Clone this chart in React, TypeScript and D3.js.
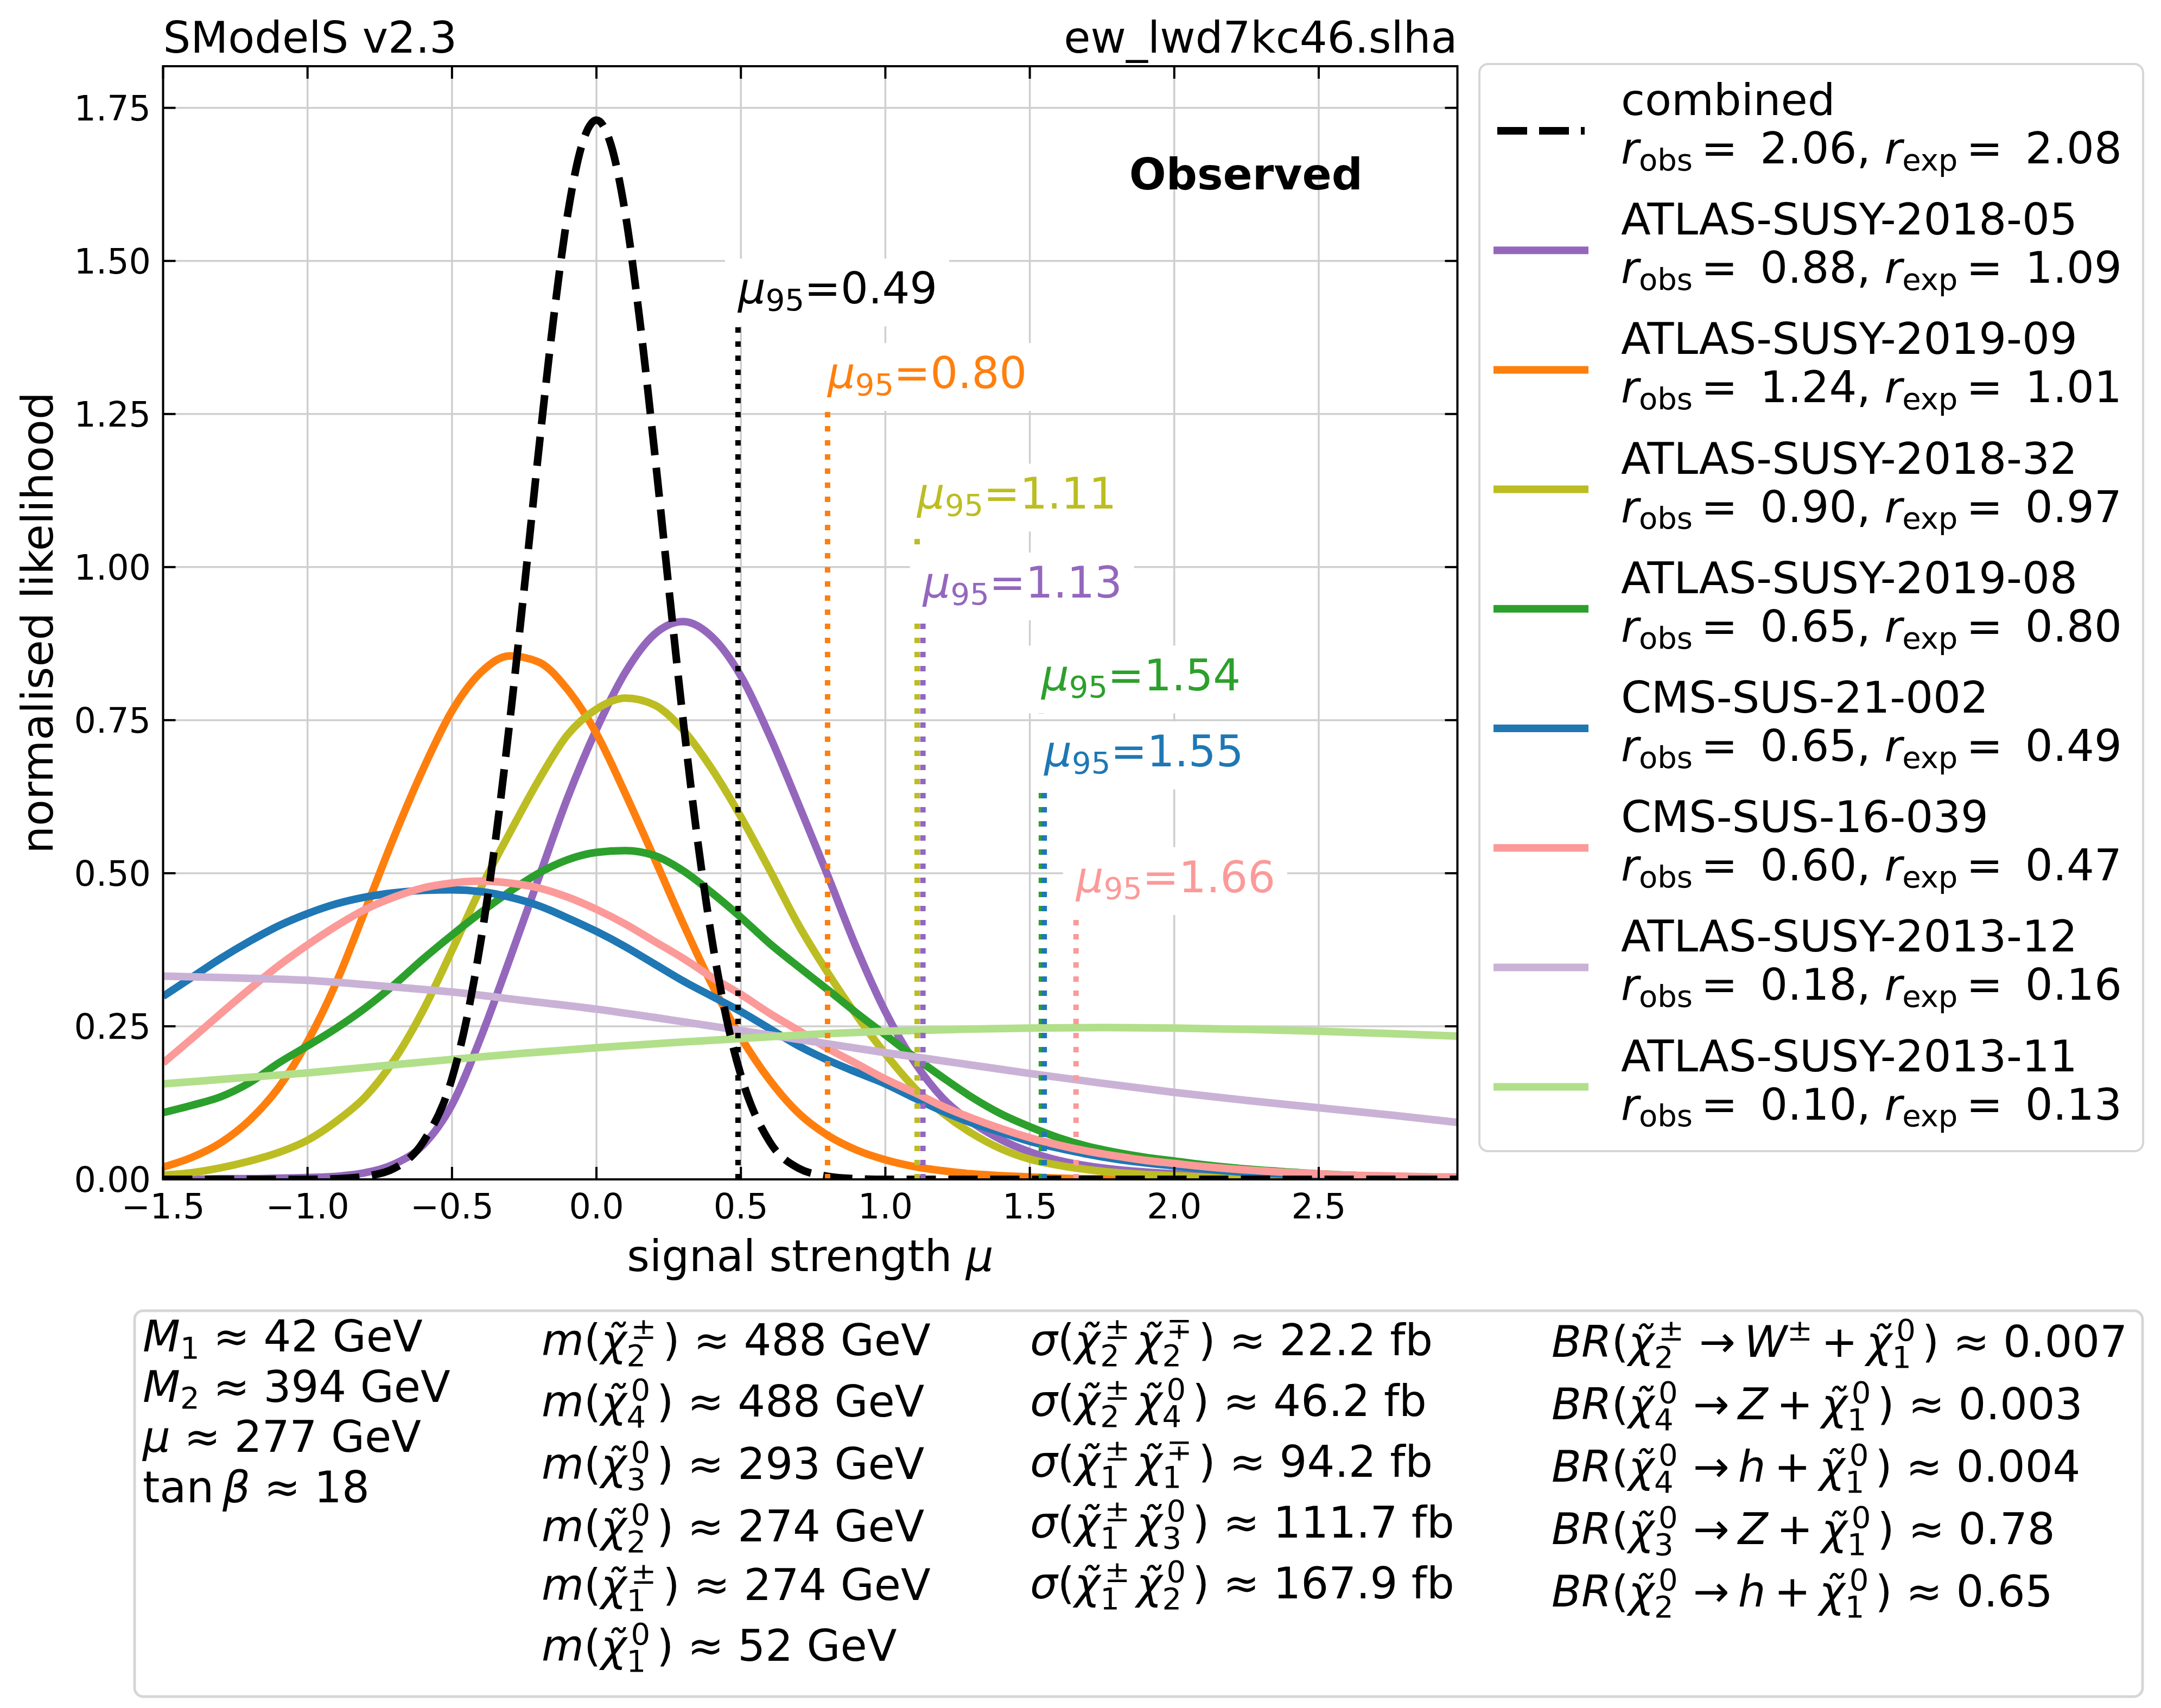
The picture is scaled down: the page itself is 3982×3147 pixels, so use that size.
import * as d3 from 'd3';

// ---- values ----
const muGrid = [-1.5, -1.4, -1.3, -1.2, -1.1, -1.0, -0.9, -0.8, -0.7, -0.6, -0.5, -0.4, -0.3, -0.2, -0.1, 0.0, 0.1, 0.2, 0.3, 0.4, 0.5, 0.6, 0.7, 0.8, 0.9, 1.0, 1.1, 1.2, 1.3, 1.4, 1.5, 1.6, 1.7, 1.8, 1.9, 2.0, 2.1, 2.2, 2.3, 2.4, 2.5, 2.6, 2.7, 2.8, 2.9, 2.98];
const muFine = [-1.5, -1.0, -0.9, -0.8, -0.7, -0.6, -0.5, -0.45, -0.4, -0.35, -0.3, -0.25, -0.2, -0.15, -0.1, -0.05, 0.0, 0.05, 0.1, 0.15, 0.2, 0.25, 0.3, 0.35, 0.4, 0.45, 0.5, 0.6, 0.7, 0.8, 0.9, 1.0, 2.98];
const muCoarse = [-1.5, -1.25, -1.0, -0.75, -0.5, -0.25, 0.0, 0.25, 0.5, 0.75, 1.0, 1.25, 1.5, 1.75, 2.0, 2.25, 2.5, 2.75, 2.98];

const llhdCombined = [0.0, 0.0, 0.001, 0.005, 0.018, 0.061, 0.165, 0.26, 0.39, 0.552, 0.748, 0.965, 1.19, 1.4, 1.575, 1.69, 1.73, 1.69, 1.577, 1.403, 1.193, 0.968, 0.75, 0.554, 0.391, 0.263, 0.17, 0.061, 0.018, 0.005, 0.001, 0.0, 0.0];
const llhd201805 = [0.0, 0.0, 0.001, 0.001, 0.002, 0.003, 0.005, 0.011, 0.025, 0.056, 0.122, 0.232, 0.36, 0.492, 0.623, 0.735, 0.828, 0.89, 0.911, 0.886, 0.822, 0.724, 0.612, 0.497, 0.378, 0.274, 0.192, 0.132, 0.093, 0.065, 0.045, 0.031, 0.022, 0.016, 0.012, 0.009, 0.007, 0.005, 0.003, 0.002, 0.001, 0.001, 0.0, 0.0, 0.0, 0.0];
const llhd201909 = [0.02, 0.036, 0.06, 0.097, 0.15, 0.225, 0.322, 0.44, 0.56, 0.67, 0.765, 0.828, 0.855, 0.845, 0.8, 0.728, 0.63, 0.525, 0.418, 0.318, 0.232, 0.162, 0.108, 0.072, 0.048, 0.032, 0.021, 0.014, 0.009, 0.006, 0.004, 0.002, 0.001, 0.001, 0.0, 0.0, 0.0, 0.0, 0.0, 0.0, 0.0, 0.0, 0.0, 0.0, 0.0, 0.0];
const llhd201832 = [0.007, 0.011, 0.019, 0.03, 0.044, 0.064, 0.095, 0.135, 0.195, 0.276, 0.374, 0.476, 0.566, 0.652, 0.726, 0.768, 0.786, 0.775, 0.734, 0.67, 0.592, 0.505, 0.415, 0.338, 0.268, 0.205, 0.15, 0.108, 0.075, 0.05, 0.033, 0.023, 0.016, 0.011, 0.008, 0.006, 0.004, 0.003, 0.002, 0.001, 0.0, 0.0, 0.0, 0.0, 0.0, 0.0];
const llhd201908 = [0.109, 0.121, 0.135, 0.158, 0.19, 0.218, 0.247, 0.28, 0.318, 0.36, 0.399, 0.436, 0.47, 0.5, 0.522, 0.534, 0.537, 0.529, 0.504, 0.468, 0.428, 0.385, 0.347, 0.31, 0.272, 0.236, 0.2, 0.166, 0.134, 0.107, 0.086, 0.068, 0.054, 0.044, 0.036, 0.03, 0.024, 0.019, 0.015, 0.012, 0.009, 0.007, 0.005, 0.004, 0.003, 0.002];
const llhdCms21002 = [0.299, 0.33, 0.361, 0.389, 0.414, 0.434, 0.45, 0.461, 0.468, 0.472, 0.473, 0.47, 0.461, 0.447, 0.427, 0.405, 0.38, 0.352, 0.324, 0.299, 0.274, 0.246, 0.218, 0.195, 0.175, 0.156, 0.133, 0.111, 0.092, 0.077, 0.062, 0.051, 0.041, 0.033, 0.027, 0.022, 0.017, 0.013, 0.01, 0.008, 0.006, 0.005, 0.004, 0.003, 0.002, 0.002];
const llhdCms16039 = [0.19, 0.23, 0.271, 0.311, 0.349, 0.383, 0.414, 0.441, 0.461, 0.476, 0.484, 0.487, 0.484, 0.476, 0.461, 0.441, 0.417, 0.389, 0.361, 0.33, 0.302, 0.271, 0.243, 0.214, 0.189, 0.164, 0.142, 0.119, 0.1, 0.083, 0.068, 0.056, 0.046, 0.038, 0.031, 0.026, 0.021, 0.017, 0.014, 0.011, 0.009, 0.007, 0.006, 0.005, 0.004, 0.004];
const llhd201312 = [0.332, 0.329, 0.325, 0.316, 0.306, 0.292, 0.278, 0.261, 0.243, 0.225, 0.207, 0.19, 0.173, 0.157, 0.142, 0.129, 0.117, 0.105, 0.093];
const llhd201311 = [0.156, 0.165, 0.174, 0.185, 0.196, 0.206, 0.215, 0.223, 0.23, 0.237, 0.242, 0.245, 0.247, 0.248, 0.247, 0.245, 0.242, 0.238, 0.234];

const analyses = ['combined', 'ATLAS-SUSY-2018-05', 'ATLAS-SUSY-2019-09', 'ATLAS-SUSY-2018-32', 'ATLAS-SUSY-2019-08', 'CMS-SUS-21-002', 'CMS-SUS-16-039', 'ATLAS-SUSY-2013-12', 'ATLAS-SUSY-2013-11'];
const rObs = [2.06, 0.88, 1.24, 0.90, 0.65, 0.65, 0.60, 0.18, 0.10];
const rExp = [2.08, 1.09, 1.01, 0.97, 0.80, 0.49, 0.47, 0.16, 0.13];
const mu95 = [0.49, 1.13, 0.80, 1.11, 1.54, 1.55, 1.66, null, null];
const mu95LabelAt = [1.393, 0.913, 1.255, 1.058, 0.761, 0.637, 0.432, null, null];

const xTicks = [-1.5, -1.0, -0.5, 0.0, 0.5, 1.0, 1.5, 2.0, 2.5];
const yTicks = [0, 0.25, 0.5, 0.75, 1.0, 1.25, 1.5, 1.75];

const softParams = [42, 394, 277, 18];
const massValues = [488, 488, 293, 274, 274, 52];
const xsecValues = [22.2, 46.2, 94.2, 111.7, 167.9];
const brValues = [0.007, 0.003, 0.004, 0.78, 0.65];

const curves = [
  [muFine, llhdCombined], [muGrid, llhd201805], [muGrid, llhd201909], [muGrid, llhd201832],
  [muGrid, llhd201908], [muGrid, llhdCms21002], [muGrid, llhdCms16039], [muCoarse, llhd201312], [muCoarse, llhd201311],
];
const colors = ['#000000', '#9467bd', '#ff7f0e', '#bcbd22', '#2ca02c', '#1f77b4', '#fb9a99', '#cab2d6', '#b2df8a'];

// ---- layout ----
const W = 3982, H = 3147;
const left = 300.5, right = 2685.5, top = 122, bottom = 2173;
const FS = 80, TFS = 63.5, LW = 14;

type Seg = string | { i: string } | { sup?: string; sub?: string };

const scriptWidth = (s: string) =>
  Array.from(s).reduce((w, c) => w + (c === '±' || c === '∓' ? 0.838 : 0.636), 0);

// minimal mathtext-like layout: italic runs, sub/superscripts (stacked when both)
function MathText({ x, y, segs, size = FS, fill = '#000', anchor = 'start' }:
  { x: number; y: number; segs: Seg[]; size?: number; fill?: string; anchor?: string }) {
  const parts: any[] = [];
  let shift = 0, carry = 0;
  segs.forEach((s, k) => {
    if (typeof s === 'string' || 'i' in s) {
      const it = typeof s !== 'string';
      parts.push(<tspan key={k} dx={carry} dy={-shift} fontStyle={it ? 'italic' : 'normal'}>{it ? (s as any).i : s}</tspan>);
      shift = 0; carry = 0;
      return;
    }
    const small = size * 0.7;
    if (s.sup && s.sub) {
      const up = -0.37 * size, down = 0.25 * size, kern = 0.1 * size;
      const wUp = scriptWidth(s.sup) * small, wDown = scriptWidth(s.sub) * small;
      parts.push(<tspan key={k + 'u'} dx={carry + kern} dy={up - shift} fontSize={small}>{s.sup}</tspan>);
      parts.push(<tspan key={k + 'd'} dx={-(wUp + kern)} dy={down - up} fontSize={small}>{s.sub}</tspan>);
      shift = down; carry = Math.max(kern + wUp, wDown) - wDown + 0.15 * size;
    } else {
      const off = s.sup ? -0.37 * size : 0.16 * size;
      parts.push(<tspan key={k} dx={carry} dy={off - shift} fontSize={small}>{s.sup ?? s.sub}</tspan>);
      shift = off; carry = 0;
    }
  });
  return <text x={x} y={y} fontSize={size} fill={fill} textAnchor={anchor as any}>{parts}</text>;
}

const chi = { i: 'χ\u0303' };
const sc = (sup: string, sub: string) => ({ sup, sub });
const approx = ' ≈ ';

const paramLines: Seg[][] = [
  [{ i: 'M' }, { sub: '1' }, `${approx}${softParams[0]} GeV`],
  [{ i: 'M' }, { sub: '2' }, `${approx}${softParams[1]} GeV`],
  [{ i: 'μ' }, `${approx}${softParams[2]} GeV`],
  ['tan\u2009', { i: 'β' }, `${approx}${softParams[3]}`],
];
const massStates = [sc('±', '2'), sc('0', '4'), sc('0', '3'), sc('0', '2'), sc('±', '1'), sc('0', '1')];
const massLines: Seg[][] = massStates.map((st, k) => [{ i: 'm' }, '(', chi, st, ')', `${approx}${massValues[k]} GeV`]);
const xsecPairs = [
  [sc('±', '2'), sc('∓', '2')], [sc('±', '2'), sc('0', '4')], [sc('±', '1'), sc('∓', '1')],
  [sc('±', '1'), sc('0', '3')], [sc('±', '1'), sc('0', '2')],
];
const xsecLines: Seg[][] = xsecPairs.map((p, k) => [{ i: 'σ' }, '(', chi, p[0], chi, p[1], ')', `${approx}${xsecValues[k]} fb`]);
const brDecays: Seg[][] = [
  [sc('±', '2'), '\u2009→\u2009', { i: 'W' }, { sup: '±' }],
  [sc('0', '4'), '\u2009→\u2009', { i: 'Z' }],
  [sc('0', '4'), '\u2009→\u2009', { i: 'h' }],
  [sc('0', '3'), '\u2009→\u2009', { i: 'Z' }],
  [sc('0', '2'), '\u2009→\u2009', { i: 'h' }],
];
const brLines: Seg[][] = brDecays.map((d, k) => [{ i: 'BR' }, '(', chi, ...d, '\u2009+\u2009', chi, sc('0', '1'), ')', `${approx}${brValues[k]}`]);

export default function App() {
  const x = d3.scaleLinear().domain([-1.5, 2.98]).range([left, right]);
  const y = d3.scaleLinear().domain([0, 1.818]).range([bottom, top]);
  const line = (mu: number[], l: number[]) =>
    d3.line<number>().x((_, k) => x(mu[k])).y((v) => y(v)).curve(d3.curveMonotoneX)(l) || '';
  const fmtX = (v: number) => v.toFixed(1).replace('-', '\u2212');

  const legendTop = 241, legendStep = 220.2, legendText = 2987;

  return (
    <svg width={W} height={H} style={{ position: 'absolute', left: 0, top: 0, background: '#fff' }}
      fontFamily="'DejaVu Sans', sans-serif">
      <rect width={W} height={H} fill="#fff" />
      <defs>
        <clipPath id="ax"><rect x={left} y={top} width={right - left} height={bottom - top} /></clipPath>
      </defs>

      {/* grid */}
      <g stroke="#cfcfcf" strokeWidth={3.5}>
        {xTicks.map((t) => <line key={'gx' + t} x1={x(t)} x2={x(t)} y1={top} y2={bottom} />)}
        {yTicks.map((t) => <line key={'gy' + t} x1={left} x2={right} y1={y(t)} y2={y(t)} />)}
      </g>

      {/* likelihood curves */}
      <g clipPath="url(#ax)" fill="none">
        {curves.slice(1).map(([mu, l], k) => (
          <path key={k} d={line(mu, l)} stroke={colors[k + 1]} strokeWidth={LW} strokeLinejoin="round" />
        ))}
        <path d={line(curves[0][0], curves[0][1])} stroke="#000" strokeWidth={LW} strokeDasharray="54 23" />
      </g>

      {/* mu95 lines */}
      <g>
        {mu95.map((m, k) => m === null ? null : (
          <line key={'v' + k} x1={x(m)} x2={x(m)} y1={y(0)} y2={y(mu95LabelAt[k] as number)}
            stroke={colors[k]} strokeWidth={10} strokeDasharray="10 16" />
        ))}
      </g>
      <g>
        {mu95.map((m, k) => {
          if (m === null) return null;
          const lx = x(m), by = y(mu95LabelAt[k] as number) - 42;
          return (
            <g key={'lab' + k}>
              <rect x={lx - 24} y={by - 83} width={413} height={125} fill="#fff" />
              <MathText x={lx} y={by} segs={[{ i: 'μ' }, { sub: '95' }, '=' + m.toFixed(2)]} fill={colors[k]} />
            </g>
          );
        })}
      </g>

      {/* spines and ticks */}
      <rect x={left} y={top} width={right - left} height={bottom - top} fill="none" stroke="#000" strokeWidth={4} />
      <g stroke="#000" strokeWidth={4}>
        {xTicks.map((t) => (
          <g key={'tx' + t}>
            <line x1={x(t)} x2={x(t)} y1={bottom} y2={bottom - 23} />
            <line x1={x(t)} x2={x(t)} y1={top} y2={top + 23} />
          </g>
        ))}
        {yTicks.map((t) => (
          <g key={'ty' + t}>
            <line x1={left} x2={left + 23} y1={y(t)} y2={y(t)} />
            <line x1={right} x2={right - 23} y1={y(t)} y2={y(t)} />
          </g>
        ))}
      </g>
      <g fontSize={TFS}>
        {xTicks.map((t) => <text key={'lx' + t} x={x(t)} y={2245} textAnchor="middle">{fmtX(t)}</text>)}
        {yTicks.map((t) => <text key={'ly' + t} x={278} y={y(t) + 23} textAnchor="end">{t.toFixed(2)}</text>)}
      </g>

      {/* axis labels and titles */}
      <text x={(left + right) / 2} y={2342} fontSize={FS} textAnchor="middle">
        signal strength <tspan fontStyle="italic">μ</tspan>
      </text>
      <text transform={`translate(97,${(top + bottom) / 2}) rotate(-90)`} fontSize={FS} textAnchor="middle">normalised likelihood</text>
      <text x={left} y={97} fontSize={FS}>SModelS v2.3</text>
      <text x={right} y={97} fontSize={FS} textAnchor="end">ew_lwd7kc46.slha</text>
      <text x={2511} y={349} fontSize={FS} fontWeight="bold" textAnchor="end">Observed</text>

      {/* legend */}
      <rect x={2726} y={118} width={1223} height={2003} rx={16} fill="#fff" stroke="#d6d6d6" strokeWidth={4} />
      {analyses.map((name, k) => {
        const hy = legendTop + k * legendStep;
        return (
          <g key={'leg' + k}>
            {k === 0
              ? <line x1={2759} x2={2920} y1={hy} y2={hy} stroke="#000" strokeWidth={LW} strokeDasharray="55 22" />
              : <line x1={2759} x2={2920} y1={hy} y2={hy} stroke={colors[k]} strokeWidth={LW} strokeLinecap="square" />}
            <text x={legendText} y={hy - 29} fontSize={FS}>{name}</text>
            <MathText x={legendText} y={hy + 60}
              segs={[{ i: 'r' }, { sub: 'obs' }, `\u2009=\u2009 ${rObs[k].toFixed(2)}, `, { i: 'r' }, { sub: 'exp' }, `\u2009=\u2009 ${rExp[k].toFixed(2)}`]} />
          </g>
        );
      })}

      {/* parameter box */}
      <rect x={248} y={2415} width={3700} height={711} rx={16} fill="#fff" stroke="#d6d6d6" strokeWidth={5} />
      {paramLines.map((s, k) => <MathText key={'p' + k} x={263} y={2490 + k * 92.5} segs={s} />)}
      {massLines.map((s, k) => <MathText key={'m' + k} x={998} y={[2497, 2610, 2725, 2840, 2948, 3060][k]} segs={s} />)}
      {xsecLines.map((s, k) => <MathText key={'x' + k} x={1898} y={2497 + k * 112} segs={s} />)}
      {brLines.map((s, k) => <MathText key={'b' + k} x={2859} y={2500 + k * 115} segs={s} />)}
    </svg>
  );
}
